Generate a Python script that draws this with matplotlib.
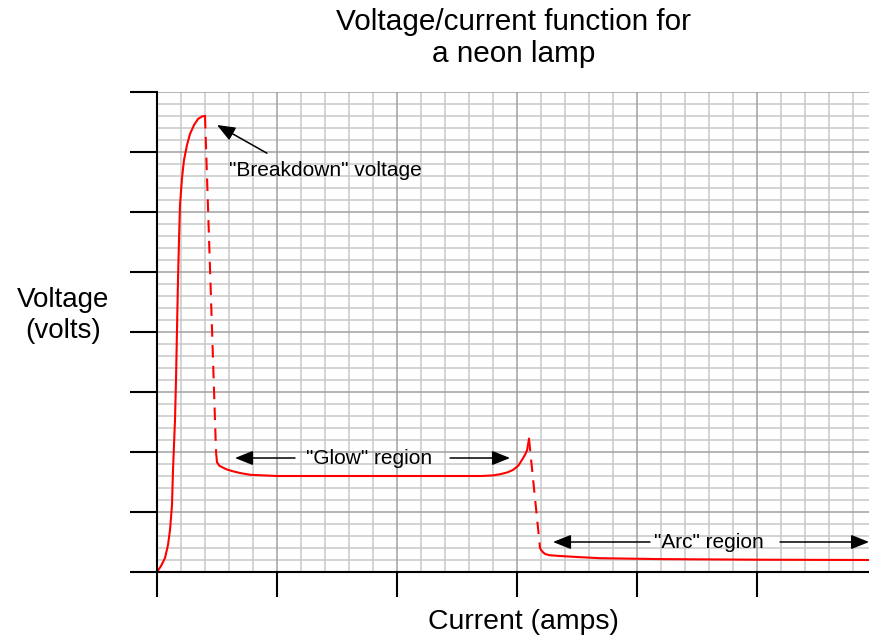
import numpy as np
import matplotlib
matplotlib.use("Agg")
import matplotlib.pyplot as plt

plt.rcParams['font.family'] = ['Liberation Sans', 'DejaVu Sans']

# curve pieces (x in minor-grid units, y in major-grid units)
rise_x = [0, 0.167, 0.333, 0.458, 0.542, 0.625, 0.667, 0.75, 0.792, 0.833, 0.875, 0.917,
          0.958, 1.042, 1.125, 1.25, 1.375, 1.542, 1.708, 1.875, 2.0]
rise_y = [0, 0.1, 0.233, 0.45, 0.7, 1.117, 1.7, 2.533, 3.2, 4.033, 4.867, 5.533,
          6.117, 6.567, 6.867, 7.117, 7.3, 7.45, 7.55, 7.592, 7.6]

breakdown_x = [2.0, 2.46]
breakdown_y = [7.6, 2.0]

glow_x = [2.46, 2.5, 2.6, 2.75, 2.9, 3.15, 3.46, 3.88, 5.0, 8.0, 12.0, 13.5, 14.0, 14.3, 14.6, 14.83, 15.05, 15.21, 15.33, 15.42, 15.5]
glow_y = [2.0, 1.83, 1.77, 1.74, 1.71, 1.68, 1.65, 1.62, 1.6, 1.6, 1.6, 1.6, 1.61, 1.63, 1.66, 1.7, 1.77, 1.87, 1.95, 2.03, 2.22]

transition_x = [15.5, 15.96]
transition_y = [2.22, 0.4]

arc_x = [15.96, 16.0, 16.08, 16.17, 16.35, 16.67, 17.5, 18.46, 21.0, 25.0, 29.7]
arc_y = [0.4, 0.37, 0.33, 0.3, 0.28, 0.27, 0.25, 0.23, 0.215, 0.205, 0.2]

fig = plt.figure(figsize=(8.7, 6.44), dpi=100)
ax = fig.add_axes([157/870, 72/644, 713/870, 480/644])

xmax = 713/24
ax.set_xlim(0, xmax)
ax.set_ylim(0, 8)

# graph paper grid
for xv in np.arange(1, xmax, 1):
    if xv % 5 != 0:
        ax.axvline(xv, color='#c8c8c8', lw=1.1, zorder=0)
for xv in np.arange(5, xmax, 5):
    ax.axvline(xv, color='#a0a0a0', lw=1.1, zorder=0.5)
for yv in np.arange(0.2, 8.01, 0.2):
    yv = round(yv, 1)
    if abs(yv - round(yv)) > 1e-6:
        ax.axhline(yv, color='#c8c8c8', lw=1.1, zorder=0)
for yv in range(1, 9):
    ax.axhline(yv, color='#a0a0a0', lw=1.1, zorder=0.5)

red = '#ff0000'
ax.plot(rise_x, rise_y, color=red, lw=1.5, zorder=3)
ax.plot(breakdown_x, breakdown_y, color=red, lw=1.5, ls=(0, (6, 4)), zorder=3)
ax.plot(glow_x, glow_y, color=red, lw=1.5, zorder=3)
ax.plot(transition_x, transition_y, color=red, lw=1.5, ls=(0, (6, 4)), zorder=3)
ax.plot(arc_x, arc_y, color=red, lw=1.5, zorder=3)

# axes styling
for s in ['top', 'right']:
    ax.spines[s].set_visible(False)
for s in ['left', 'bottom']:
    ax.spines[s].set_linewidth(1.5)
    ax.spines[s].set_zorder(4)
ax.set_xticks(np.arange(0, xmax, 5))
ax.set_yticks(np.arange(0, 9, 1))
ax.tick_params(axis='x', length=18, width=1.5, labelbottom=False)
ax.tick_params(axis='y', length=19.5, width=1.5, labelleft=False)

arrow = dict(arrowstyle='-|>,head_length=0.55,head_width=0.22', color='black',
             lw=1.1, shrinkA=0, shrinkB=0, mutation_scale=20)

ax.annotate('', xy=(2.5, 7.45), xytext=(4.58, 6.98), arrowprops=arrow, zorder=5)
ax.text(3.0, 6.7, '"Breakdown" voltage', fontsize=15, ha='left', va='center', zorder=5)

ax.text(8.83, 1.9, '"Glow" region', fontsize=15, ha='center', va='center', zorder=5)
ax.annotate('', xy=(3.25, 1.9), xytext=(5.75, 1.9), arrowprops=arrow, zorder=5)
ax.annotate('', xy=(14.71, 1.9), xytext=(12.21, 1.9), arrowprops=arrow, zorder=5)

ax.text(23.0, 0.5, '"Arc" region', fontsize=15, ha='center', va='center', zorder=5)
ax.annotate('', xy=(16.5, 0.5), xytext=(20.54, 0.5), arrowprops=arrow, zorder=5)
ax.annotate('', xy=(29.67, 0.5), xytext=(25.96, 0.5), arrowprops=arrow, zorder=5, annotation_clip=False)

fig.text(514/870, 1 - 38/644, 'Voltage/current function for\na neon lamp', fontsize=21.4,
         ha='center', va='center', linespacing=1.2)
fig.text(63/870, 1 - 316/644, 'Voltage\n(volts)', fontsize=20, ha='center', va='center',
         linespacing=1.25)
fig.text(523/870, 1 - 622/644, 'Current (amps)', fontsize=20.4, ha='center', va='center')

fig.savefig('out.png', dpi=100)
